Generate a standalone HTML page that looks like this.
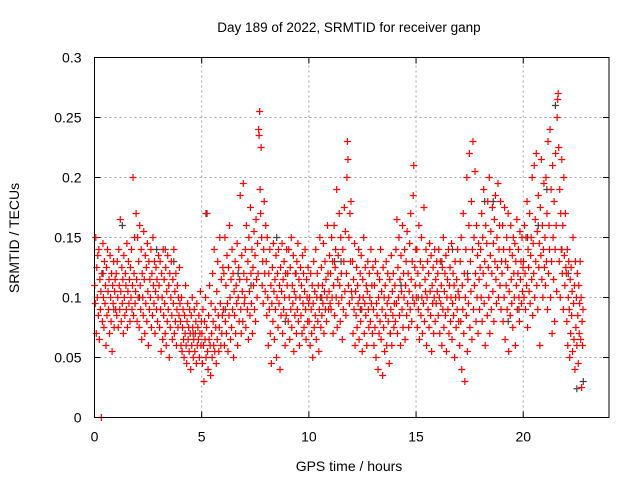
<!DOCTYPE html>
<html><head><meta charset="utf-8"><style>
body{margin:0;background:#fff;}
svg{display:block;font-family:"Liberation Sans",sans-serif;}
</style></head><body>
<svg id="chart" width="640" height="480">
<rect x="0" y="0" width="640" height="480" fill="#fff"/>
<g id="grid"></g>
<g id="ticks"></g>
<g id="graySeries"></g>
<g id="redSeries"></g>
<rect x="94.5" y="57.5" width="514.5" height="360" fill="none" stroke="#000" stroke-width="1"/>
<text x="349" y="32" text-anchor="middle" font-size="13.5">Day 189 of 2022, SRMTID for receiver ganp</text>
<text x="349" y="471" text-anchor="middle" font-size="14">GPS time / hours</text>
<text transform="translate(19,238) rotate(-90)" text-anchor="middle" font-size="14">SRMTID / TECUs</text>
</svg>
<script>
const xTicks=[0,5,10,15,20];
const yTicks=[0,0.05,0.1,0.15,0.2,0.25,0.3];
const yTickLabels=["0","0.05","0.1","0.15","0.2","0.25","0.3"];
// hour bins (start hour, duration in hours) for the red series
const hourStarts=[0,1,2,3,4,5,6,7,8,9,10,11,12,13,14,15,16,17,18,19,20,21,22];
const hourSpans=[1,1,1,1,1,1,1,1,1,1,1,1,1,1,1,1,1,1,1,1,1,1,0.8];
// SRMTID values in milli-TECU, per hour
const h0=[110,95,150,70,125,100,135,85,140,65,115,90,105,0,120,80,145,100,75,130,95,110,60,125,85,140,105,90,115,70,135,100,80,120,55,110,95,130,75,105,115,90];
const h1=[120,85,130,100,75,140,110,90,165,105,80,125,95,115,70,135,100,85,120,110,90,145,75,105,130,95,115,80,125,100,140,90,110,200,85,120,150,95,105,170,115,80];
const h2=[150,100,130,75,160,110,90,140,65,120,100,85,155,115,70,135,95,125,80,145,105,60,130,90,115,100,140,75,120,85,150,110,95,130,70,105,125,90,115,80,100,135];
const h3=[110,75,130,90,55,120,100,65,140,85,115,95,70,125,60,105,80,135,90,110,50,120,75,100,130,85,65,115,95,140,70,105,80,120,60,90,110,75,100,85,125,95];
const h4=[80,60,100,55,75,90,65,50,85,70,110,60,45,80,95,65,75,55,90,70,40,85,60,100,75,50,65,90,55,70,80,45,95,60,75,65,85,50,70,105,60,80];
const h5=[70,45,90,60,30,80,65,100,50,75,170,55,40,85,65,110,60,35,95,70,50,120,80,60,140,55,90,75,45,105,65,130,85,55,75,150,95,60,115,70,85,125];
const h6=[90,120,60,150,80,110,70,135,95,55,125,85,160,100,65,115,75,140,90,120,50,105,85,130,70,110,95,145,60,100,125,80,115,185,90,70,135,105,80,195,120,95];
const h7=[100,140,75,160,115,90,130,65,150,105,85,175,120,95,140,70,125,110,155,90,135,80,165,115,100,145,120,240,235,255,190,170,225,150,110,130,95,140,180,120,105,160];
const h8=[130,85,150,100,60,120,90,140,70,110,45,95,125,80,145,105,65,115,90,135,50,100,120,75,140,95,110,40,125,85,105,145,70,115,90,130,100,60,120,85,140,110];
const h9=[120,80,140,100,65,125,90,150,75,110,95,135,55,105,85,120,100,70,130,90,145,80,115,60,100,125,85,110,70,135,95,120,75,105,140,90,65,115,100,80,125,95];
const h10=[80,100,60,120,90,70,110,50,95,130,75,105,85,140,65,100,120,80,110,55,90,150,100,75,125,85,110,95,145,70,105,130,90,115,80,100,160,120,90,105,135,95];
const h11=[120,90,150,100,130,70,110,160,85,125,140,100,190,75,115,135,95,170,110,80,150,120,100,65,140,90,130,175,105,155,85,120,200,230,215,110,150,95,170,130,180,105];
const h12=[100,130,70,115,90,145,60,105,85,125,75,110,95,140,65,100,120,80,135,90,55,115,100,150,70,95,125,85,110,60,105,130,90,75,120,100,80,140,95,110,70,125];
const h13=[90,60,110,75,130,50,95,85,120,40,100,70,115,80,140,65,105,90,35,125,75,100,55,110,85,130,60,95,120,80,100,45,115,70,90,135,60,105,85,120,75,95];
const h14=[110,80,140,95,165,70,125,100,150,85,115,60,135,105,90,160,75,120,100,140,65,110,130,85,155,95,120,75,105,145,90,170,115,80,130,100,185,210,95,125,110,140];
const h15=[100,140,75,120,90,160,65,110,130,85,150,100,70,125,95,175,80,115,105,140,60,100,130,90,120,75,145,105,85,135,55,110,95,125,70,100,140,80,115,95,130,105];
const h16=[120,85,140,100,70,130,95,110,60,125,90,150,75,105,120,85,135,55,100,115,90,140,70,110,125,80,100,145,65,95,120,85,110,50,130,100,75,115,90,140,105,80];
const h17=[100,60,130,80,150,40,110,90,170,70,120,30,100,140,85,200,55,115,95,160,220,75,130,105,180,65,140,230,90,150,110,205,120,80,160,100,135,70,145,115,90,125];
const h18=[140,100,170,80,150,120,190,95,130,60,160,110,145,85,180,125,100,200,70,135,155,90,120,175,105,145,80,165,130,185,115,95,150,125,195,100,140,160,110,180,90,130];
const h19=[120,160,80,140,100,175,65,130,110,150,90,125,170,55,105,140,85,160,115,95,135,75,150,120,100,145,60,130,110,165,90,120,140,100,80,155,115,130,95,150,105,125];
const h20=[130,100,160,120,90,150,110,180,75,140,125,105,170,95,135,150,115,200,85,145,120,210,100,165,130,220,110,155,90,185,125,145,60,175,135,215,115,160,100,140,195,125];
const h21=[150,110,200,130,170,90,230,120,160,140,240,100,190,130,70,210,150,115,180,80,140,220,160,105,250,265,270,225,130,190,100,170,140,215,120,160,90,200,135,110,170,125];
const h22=[120,80,140,60,100,130,90,50,115,70,125,85,105,55,150,95,65,110,40,130,75,100,60,120,85,45,110,70,95,130,65,100,25,80,60,90];
const redByHour=[h0,h1,h2,h3,h4,h5,h6,h7,h8,h9,h10,h11,h12,h13,h14,h15,h16,h17,h18,h19,h20,h21,h22];
const grayTimes=[0.4,1.3,2.1,2.9,3.7,4.6,5.2,6.1,7.3,8.5,9.4,10.6,11.5,12.4,13.2,14.3,15.1,16.2,17.4,18.6,19.3,20.2,21.1,21.5,22.1,22.8,0.9,3.3,6.7,8.9,11.2,13.8,16.7,18.2,19.8,20.7,21.8,22.5];
const grayValues=[0.12,0.16,0.10,0.14,0.13,0.07,0.17,0.09,0.11,0.15,0.12,0.10,0.13,0.09,0.12,0.11,0.10,0.13,0.12,0.18,0.08,0.15,0.19,0.26,0.12,0.03,0.09,0.14,0.12,0.08,0.13,0.07,0.14,0.18,0.09,0.16,0.14,0.024];

const X0=94.5,X1=609,Y0=417.5,Y1=57.5,XMAX=24,YMAX=0.3;
function xs(v){return X0+(X1-X0)*v/XMAX;}
function ys(v){return Y0-(Y0-Y1)*v/YMAX;}
const NS="http://www.w3.org/2000/svg";
function mk(tag,attrs,parent){const e=document.createElementNS(NS,tag);for(const k in attrs)e.setAttribute(k,attrs[k]);parent.appendChild(e);return e;}
const grid=document.getElementById('grid'),ticks=document.getElementById('ticks');
xTicks.forEach((t,i)=>{
  const x=xs(t);
  if(t>0){const g=mk('line',{x1:x,y1:Y0,x2:x,y2:Y1,stroke:'#a0a0a0','stroke-dasharray':'2,3'},grid);
  
  }
  mk('line',{x1:x,y1:Y0,x2:x,y2:Y0-6,stroke:'#000'},ticks);
  mk('line',{x1:x,y1:Y1,x2:x,y2:Y1+6,stroke:'#000'},ticks);
  const tx=mk('text',{x:x,y:Y0+24,'text-anchor':'middle','font-size':'14'},ticks);
  tx.textContent=String(t);
  
  
});
yTicks.forEach((t,i)=>{
  const y=ys(t);
  if(t>0&&t<0.3){const g=mk('line',{x1:X0,y1:y,x2:X1,y2:y,stroke:'#a0a0a0','stroke-dasharray':'2,3'},grid);
  
  }
  mk('line',{x1:X0,y1:y,x2:X0+6,y2:y,stroke:'#000'},ticks);
  mk('line',{x1:X1,y1:y,x2:X1-6,y2:y,stroke:'#000'},ticks);
  const tx=mk('text',{x:X0-13,y:y+5,'text-anchor':'end','font-size':'14'},ticks);
  tx.textContent=yTickLabels[i];
  
  
});
function plus(parent,t,v,color,name){
  const x=xs(t),y=ys(v);
  const p=mk('path',{d:`M${x-3.5},${y}H${x+3.5}M${x},${y-3.5}V${y+3.5}`,stroke:color,'stroke-width':'1.2',fill:'none'},parent);
  
  
}
const gg=document.getElementById('graySeries');
grayTimes.forEach((t,i)=>plus(gg,t,grayValues[i],'#404040','gray-point'));
const rg=document.getElementById('redSeries');
redByHour.forEach((vals,h)=>{
  vals.forEach((v,i)=>{
    const t=hourStarts[h]+hourSpans[h]*(i+0.5)/vals.length;
    plus(rg,t,v/1000,'#ff0000','red-point');
  });
});
</script>
</body></html>
